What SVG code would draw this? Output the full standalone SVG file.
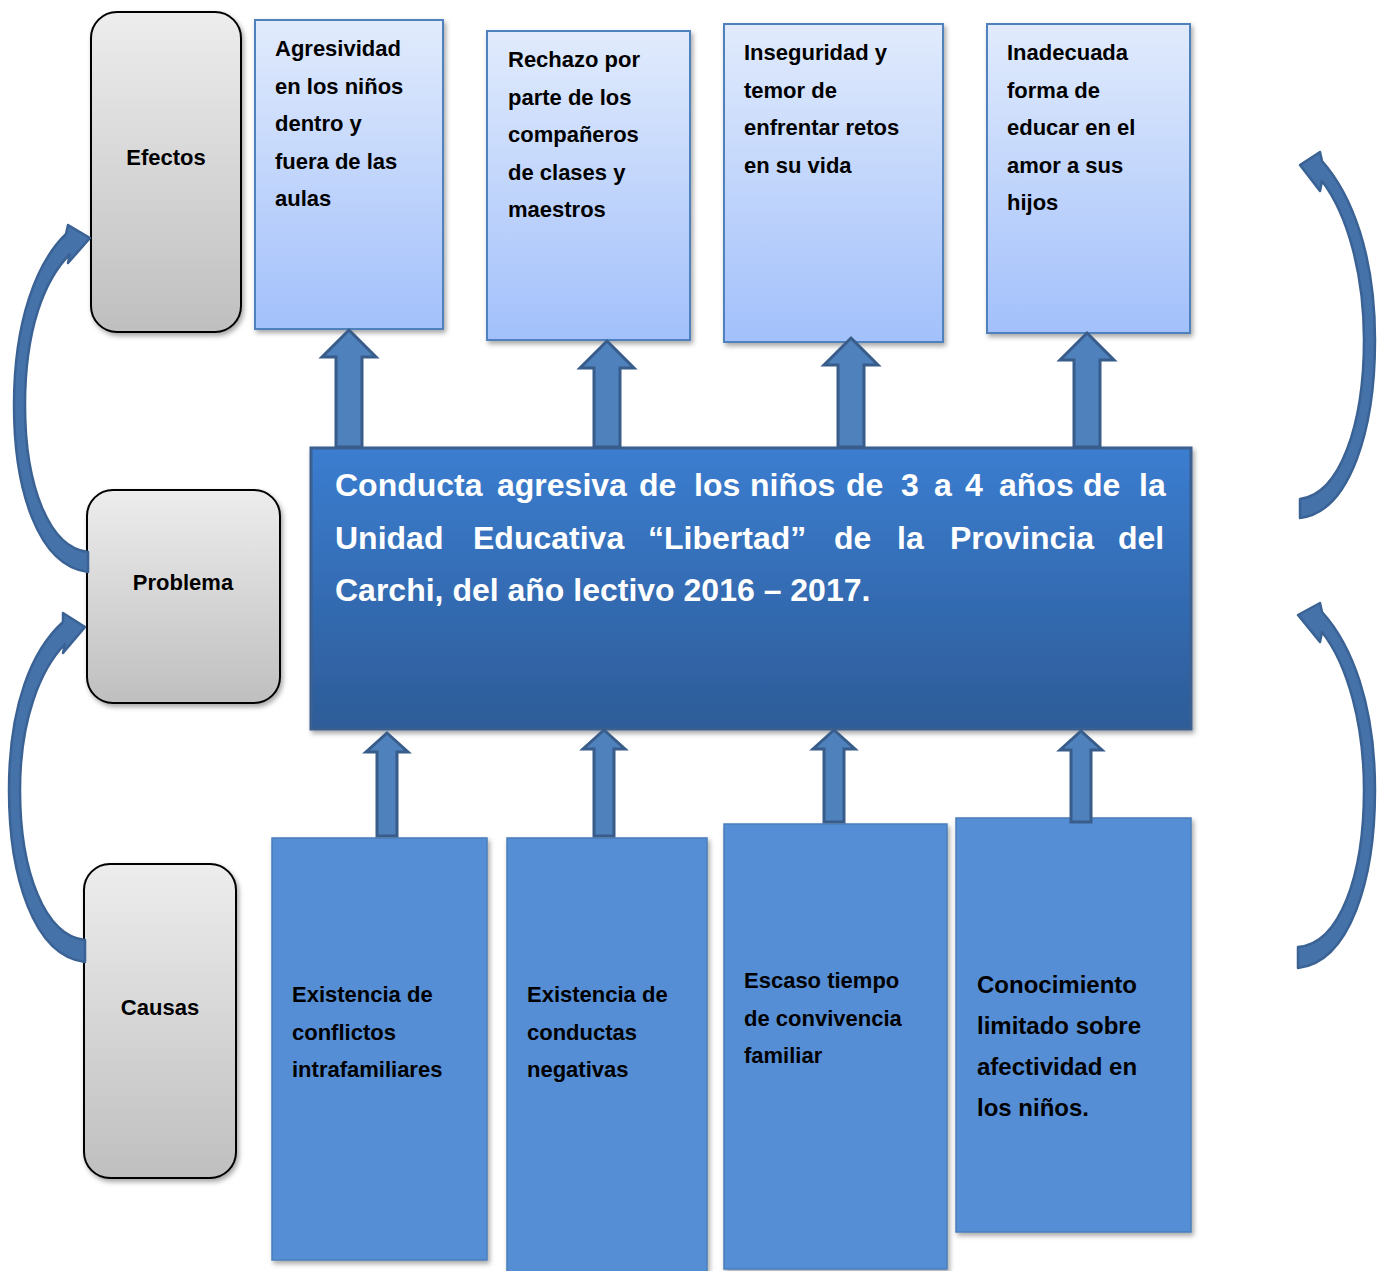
<svg xmlns="http://www.w3.org/2000/svg" width="1383" height="1271" viewBox="0 0 1383 1271">
<defs>
<linearGradient id="gGray" x1="0" y1="0" x2="0" y2="1"><stop offset="0" stop-color="#ededed"/><stop offset="1" stop-color="#bfbfbf"/></linearGradient>
<linearGradient id="gLight" x1="0" y1="0" x2="0" y2="1"><stop offset="0" stop-color="#e1ebfc"/><stop offset="1" stop-color="#a2c0fb"/></linearGradient>
<linearGradient id="gMain" x1="0" y1="0" x2="0" y2="1"><stop offset="0" stop-color="#3b7dd0"/><stop offset="1" stop-color="#2d5c98"/></linearGradient>
<filter id="sh" x="-10%" y="-10%" width="130%" height="130%"><feDropShadow dx="2" dy="3" stdDeviation="2.5" flood-color="#000" flood-opacity="0.35"/></filter>
</defs>
<style>
.t{font-family:"Liberation Sans",Arial,sans-serif;font-weight:bold;font-size:22px;fill:#000}
.tc{text-anchor:middle}
.gray{fill:url(#gGray);stroke:#000;stroke-width:2}
.light{fill:url(#gLight);stroke:#4f81bd;stroke-width:2}
.cause{fill:#558ed5;stroke:#4a7ebb;stroke-width:1.5}
.main{fill:url(#gMain);stroke:#3a5f8f;stroke-width:3}
.mt{font-family:"Liberation Sans",Arial,sans-serif;font-weight:bold;font-size:32px;fill:#fff}
.arr{fill:#4f81bd;stroke:#385d8a;stroke-width:3;stroke-linejoin:miter}
.carr{fill:#4672aa;stroke:#3a6294;stroke-width:2.5;stroke-linejoin:round}
</style>

<g id="efectos"><rect class="gray" x="91" y="12" width="150" height="320" rx="26" filter="url(#sh)"/><text class="t tc" x="166" y="165">Efectos</text></g>
<g id="problema"><rect class="gray" x="87" y="490" width="193" height="213" rx="26" filter="url(#sh)"/><text class="t tc" x="183" y="590">Problema</text></g>
<g id="causas"><rect class="gray" x="84" y="864" width="152" height="314" rx="26" filter="url(#sh)"/><text class="t tc" x="160" y="1015">Causas</text></g>

<g id="efecto1"><rect class="light" x="255" y="20" width="188" height="309" filter="url(#sh)"/><text class="t" x="275" y="56"><tspan x="275">Agresividad</tspan><tspan x="275" dy="37.5">en los niños</tspan><tspan x="275" dy="37.5">dentro y</tspan><tspan x="275" dy="37.5">fuera de las</tspan><tspan x="275" dy="37.5">aulas</tspan></text></g>
<g id="efecto2"><rect class="light" x="487" y="31" width="203" height="309" filter="url(#sh)"/><text class="t" x="508" y="67"><tspan x="508">Rechazo por</tspan><tspan x="508" dy="37.5">parte de los</tspan><tspan x="508" dy="37.5">compañeros</tspan><tspan x="508" dy="37.5">de clases y</tspan><tspan x="508" dy="37.5">maestros</tspan></text></g>
<g id="efecto3"><rect class="light" x="724" y="24" width="219" height="318" filter="url(#sh)"/><text class="t" x="744" y="60"><tspan x="744">Inseguridad y</tspan><tspan x="744" dy="37.5">temor de</tspan><tspan x="744" dy="37.5">enfrentar retos</tspan><tspan x="744" dy="37.5">en su vida</tspan></text></g>
<g id="efecto4"><rect class="light" x="987" y="24" width="203" height="309" filter="url(#sh)"/><text class="t" x="1007" y="60"><tspan x="1007">Inadecuada</tspan><tspan x="1007" dy="37.5">forma de</tspan><tspan x="1007" dy="37.5">educar en el</tspan><tspan x="1007" dy="37.5">amor a sus</tspan><tspan x="1007" dy="37.5">hijos</tspan></text></g>

<g id="problema-central"><rect class="main" x="311" y="448" width="880" height="281" filter="url(#sh)"/>
<text class="mt" y="496"><tspan x="335">Conducta</tspan><tspan x="497">agresiva</tspan><tspan x="639">de</tspan><tspan x="694">los</tspan><tspan x="750">niños</tspan><tspan x="846">de</tspan><tspan x="901">3</tspan><tspan x="934">a</tspan><tspan x="965">4</tspan><tspan x="999">años</tspan><tspan x="1083">de</tspan><tspan x="1139">la</tspan></text>
<text class="mt" y="549"><tspan x="335">Unidad</tspan><tspan x="473">Educativa</tspan><tspan x="648">“Libertad”</tspan><tspan x="834">de</tspan><tspan x="897">la</tspan><tspan x="950">Provincia</tspan><tspan x="1118">del</tspan></text>
<text class="mt" x="335" y="601">Carchi, del año lectivo 2016 – 2017.</text>
</g>

<g id="causa1"><rect class="cause" x="272" y="838" width="215" height="422" filter="url(#sh)"/><text class="t" y="1002"><tspan x="292">Existencia de</tspan><tspan x="292" dy="37.5">conflictos</tspan><tspan x="292" dy="37.5">intrafamiliares</tspan></text></g>
<g id="causa2"><rect class="cause" x="507" y="838" width="200" height="440" filter="url(#sh)"/><text class="t" y="1002"><tspan x="527">Existencia de</tspan><tspan x="527" dy="37.5">conductas</tspan><tspan x="527" dy="37.5">negativas</tspan></text></g>
<g id="causa3"><rect class="cause" x="724" y="824" width="223" height="445" filter="url(#sh)"/><text class="t" y="988"><tspan x="744">Escaso tiempo</tspan><tspan x="744" dy="37.5">de convivencia</tspan><tspan x="744" dy="37.5">familiar</tspan></text></g>
<g id="causa4"><rect class="cause" x="956" y="818" width="235" height="414" filter="url(#sh)"/><text class="t" y="993" style="font-size:24px"><tspan x="977">Conocimiento</tspan><tspan x="977" dy="41">limitado sobre</tspan><tspan x="977" dy="41">afectividad en</tspan><tspan x="977" dy="41">los niños.</tspan></text></g>

<g id="connectors">
<polygon class="arr" points="349,330 376,357 362,357 362,447 336,447 336,357 322,357"/>
<polygon class="arr" points="607,341 634,368 620,368 620,447 594,447 594,368 580,368"/>
<polygon class="arr" points="851,338 878,365 864,365 864,447 838,447 838,365 824,365"/>
<polygon class="arr" points="1087,333 1114,360 1100,360 1100,447 1074,447 1074,360 1060,360"/>
<polygon class="arr" points="387,733 408,752 397,752 397,836 377,836 377,752 366,752"/>
<polygon class="arr" points="604,730 625,749 614,749 614,836 594,836 594,749 583,749"/>
<polygon class="arr" points="834,730 855,749 844,749 844,822 824,822 824,749 813,749"/>
<polygon class="arr" points="1081,731 1102,750 1091,750 1091,822 1071,822 1071,750 1060,750"/>
<path class="carr" d="M88,572 C38,566 14,490 14,405 C14,320 37,262 66,234 L68,225 L90,238 L68,263 L70,254 C44,280 25,330 25,405 C25,488 50,548 88,552 Z"/>
<path class="carr" d="M85,962 C33,956 9,875 9,790 C9,705 32,650 63,622 L63,613 L85,627 L63,653 L65,644 C40,670 20,720 20,790 C20,872 45,936 85,940 Z"/>
<path class="carr" d="M1300,518 C1350,512 1375,430 1375,340 C1375,255 1352,195 1322,161 L1320,152 L1300,165 L1320,191 L1322,181 C1348,215 1364,275 1364,340 C1364,425 1340,494 1300,499 Z"/>
<path class="carr" d="M1298,968 C1350,962 1375,880 1375,790 C1375,705 1352,645 1322,612 L1320,603 L1298,615 L1320,642 L1322,632 C1348,665 1364,725 1364,790 C1364,875 1340,944 1298,947 Z"/>
</g>
</svg>
